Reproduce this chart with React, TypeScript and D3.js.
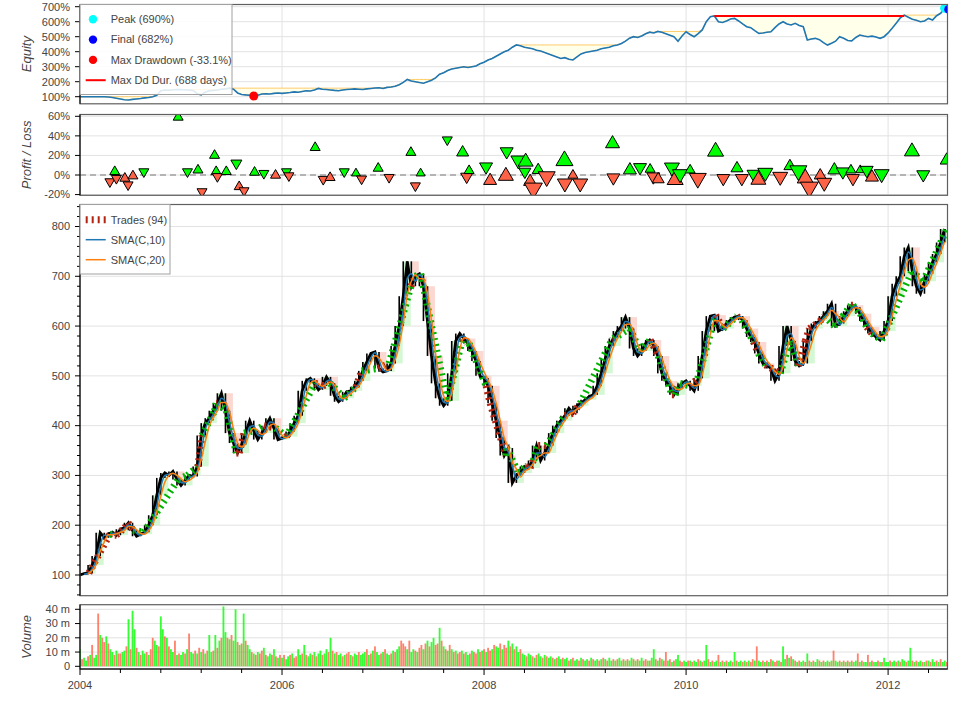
import React from 'react';
import * as d3 from 'd3';

// one price / equity sample every STEP bars (daily bars of the original)
const STEP = 10;
const VSTEP = 5;
const LAST_BAR = 2147;

// close price, one value per 10 bars
const closes = [
  100, 103, 104, 120, 138, 185, 175, 182, 186, 180,
  192, 195, 205, 190, 178, 182, 186, 200, 220, 260,
  295, 305, 300, 308, 292, 280, 290, 300, 298, 318,
  380, 405, 415, 430, 445, 465, 430, 385, 365, 345,
  362, 385, 410, 390, 372, 385, 400, 415, 395, 372,
  375, 378, 388, 405, 420, 470, 490, 495, 485, 472,
  480, 498, 485, 460, 448, 455, 468, 470, 478, 490,
  510, 528, 545, 548, 515, 508, 510, 525, 560, 600,
  660, 730, 680, 700, 705, 680, 610, 540, 485, 455,
  440, 450, 505, 570, 585, 575, 565, 550, 530, 500,
  495, 480, 445, 410, 375, 340, 355, 285, 300, 305,
  318, 315, 330, 360, 330, 345, 360, 385, 400, 410,
  420, 435, 425, 440, 445, 452, 458, 462, 480, 505,
  535, 560, 575, 590, 600, 618, 595, 555, 540, 550,
  565, 572, 560, 540, 505, 490, 480, 462, 475, 485,
  490, 480, 470, 495, 540, 590, 620, 622, 590, 595,
  605, 612, 618, 620, 612, 595, 578, 568, 545, 525,
  522, 515, 490, 505, 560, 600, 570, 530, 520, 525,
  570, 595, 605, 610, 620, 630, 645, 600, 605, 620,
  630, 642, 638, 625, 610, 598, 585, 578, 572, 590,
  610, 660, 685, 700, 740, 758, 710, 680, 665, 690,
  705, 728, 745, 768, 795,
];

// equity in percent of starting cash, one value per 10 bars
const equityPct = [
  100, 100, 100, 100, 100, 100, 100, 98, 95, 90,
  85, 80, 78, 82, 85, 88, 92, 95, 100, 110,
  140, 145, 143, 146, 148, 147, 146, 145, 142, 120,
  112, 130, 140, 142, 145, 150, 152, 157, 150, 125,
  115, 112, 110, 105, 110, 118, 120, 118, 122, 125,
  122, 125, 128, 132, 130, 135, 140, 138, 145, 155,
  150, 148, 145, 142, 140, 145, 148, 150, 152, 150,
  148, 152, 155, 158, 160, 155, 162, 165, 170, 180,
  195, 215, 205, 200, 195, 190, 200, 210, 225, 250,
  260, 275, 285, 290, 295, 300, 295, 300, 305, 320,
  330, 345, 355, 370, 385, 400, 410, 430, 445, 440,
  430, 425, 420, 410, 405, 395, 385, 375, 365, 355,
  360, 350, 345, 365, 385, 395, 400, 405, 410, 420,
  425, 430, 440, 445, 455, 470, 490, 500, 495, 505,
  520, 530, 525, 535, 530, 520, 510, 500, 470, 505,
  533, 515, 500, 520, 545, 600, 633, 638, 600, 595,
  605, 618, 622, 605, 585, 567, 560, 540, 522, 525,
  530, 533, 560, 585, 600, 585, 578, 589, 575, 567,
  478, 485, 489, 480, 460, 444, 456, 470, 500, 490,
  475, 472, 495, 511, 505, 500, 504, 498, 489, 500,
  525, 556, 590, 625, 644, 630, 616, 610, 600, 605,
  622, 611, 640, 656, 690, 682,
];

// volume in millions, one value per 5 bars
const volumeM = [
  12, 5, 6, 4, 7, 8, 15, 6, 8, 37, 22, 20, 17, 21, 16, 12, 10, 8, 11, 9,
  9, 10, 11, 14, 33, 12, 39, 26, 13, 10, 8, 11, 9, 10, 8, 12, 20, 18, 15, 14,
  35, 26, 21, 20, 14, 12, 10, 18, 8, 9, 8, 10, 9, 12, 23, 10, 9, 11, 9, 13,
  10, 12, 9, 11, 22, 10, 11, 22, 13, 18, 20, 42, 24, 20, 19, 22, 18, 40, 17, 15,
  16, 37, 18, 15, 12, 10, 9, 8, 10, 9, 11, 13, 8, 7, 9, 8, 12, 7, 6, 8,
  6, 8, 5, 7, 8, 9, 6, 7, 12, 8, 9, 15, 8, 7, 9, 8, 10, 7, 9, 11,
  8, 9, 12, 10, 20, 11, 9, 10, 8, 9, 7, 8, 9, 10, 8, 7, 9, 8, 10, 8,
  9, 10, 12, 8, 9, 11, 14, 10, 8, 9, 10, 12, 9, 8, 9, 11, 10, 12, 14, 18,
  16, 14, 12, 18, 10, 12, 11, 10, 13, 15, 12, 16, 18, 14, 17, 20, 15, 16, 27, 18,
  14, 12, 11, 15, 12, 10, 11, 9, 10, 11, 9, 10, 8, 9, 11, 10, 9, 12, 10, 11,
  12, 10, 13, 11, 12, 15, 14, 13, 16, 12, 15, 13, 18, 14, 16, 12, 14, 10, 12, 9,
  8, 7, 9, 8, 7, 6, 8, 9, 7, 6, 8, 7, 6, 7, 6, 5, 6, 7, 5, 6,
  5, 6, 4, 5, 6, 4, 5, 4, 6, 5, 4, 5, 4, 6, 5, 4, 5, 4, 5, 6,
  5, 4, 6, 4, 5, 4, 5, 6, 4, 5, 4, 5, 4, 6, 5, 4, 5, 4, 6, 4,
  5, 4, 4, 6, 12, 5, 4, 6, 5, 4, 10, 4, 5, 3, 4, 5, 8, 4, 3, 4,
  3, 4, 4, 3, 4, 3, 5, 4, 3, 4, 15, 5, 3, 4, 3, 4, 8, 3, 4, 3,
  4, 3, 4, 3, 10, 4, 3, 4, 3, 4, 3, 4, 3, 5, 4, 14, 4, 3, 4, 3,
  4, 3, 5, 4, 3, 4, 4, 3, 14, 5, 8, 6, 7, 5, 4, 3, 4, 3, 4, 3,
  9, 4, 3, 4, 3, 5, 4, 3, 4, 3, 4, 3, 4, 11, 4, 3, 4, 3, 4, 3,
  4, 3, 4, 3, 4, 9, 3, 4, 3, 3, 8, 3, 4, 3, 3, 4, 3, 3, 6, 3,
  3, 4, 3, 4, 3, 4, 3, 5, 4, 3, 4, 13, 4, 3, 4, 3, 4, 3, 3, 4,
  4, 3, 5, 3, 4, 3, 5, 3, 4, 3,
];

// 1 = up day (green), 0 = down day (red), one per volume sample
const volumeUp =
  '10110101101001011010' + '01101011010110100110' + '11010110101101011010' +
  '10101101010110101101' + '01011010100101101010' + '10110100110101101011' +
  '01101010110100101101' + '11010101101011010110' + '00101101001010110010' +
  '10101010010110100101' + '01001011010010101101' + '10110101101011010110' +
  '11010110101101011010' + '10110101101011010110' + '01011010100101011001' +
  '10101101011010110101' + '01101011010100101101' + '01010010110101010110' +
  '10101101011010110101' + '01011010110101101011' + '10110101101101011010' +
  '1011010110';

// trades: exit bar, return %, long (1) / short (0), marker size
const FIRST_ENTRY_BAR = 22;
const tradeExitBars = [
  74, 86, 90, 111, 119, 131, 158, 243, 266, 292,
  302, 333, 337, 340, 362, 387, 394, 406, 432, 455,
  484, 511, 517, 582, 602, 619, 654, 683, 697, 738,
  765, 819, 830, 843, 909, 947, 957, 963, 1005, 1015,
  1054, 1056, 1085, 1101, 1103, 1114, 1122, 1134, 1155, 1199,
  1200, 1220, 1238, 1318, 1320, 1361, 1386, 1411, 1419, 1431,
  1465, 1473, 1485, 1510, 1529, 1573, 1592, 1626, 1638, 1667,
  1679, 1696, 1733, 1757, 1778, 1795, 1805, 1832, 1842, 1867,
  1888, 1908, 1913, 1931, 1947, 1960, 1984, 2059, 2087, 2145,
];
const tradeReturnPct = [
  -6.8, 3.4, -3.4, -3.4, -10, -1, 3.4, 59, 3.4, 5,
  -17, 20, 3.4, -1.5, 3.4, 12, -12, -16, 2.7, 1.7,
  -0.3, 3.4, -0.7, 28, -4.4, -2.7, 3.4, 1.7, -4, 6.8,
  -2.4, 23, -11, 1.7, 36, 23, -1.7, 4.4, 8.5, -5.8,
  -1, 24, 15, 3.4, 13.5, -6.8, -13.6, 5, -1.7, 14.6,
  -8.5, -0.3, -8.5, 32, -2.7, 5, 7.8, 5.8, -1.7, -4.4,
  7.8, -5, 1, 5, -3.4, 24, -3.4, 6.8, -3.4, 1,
  -5, 2.4, -1.7, 9, 4.4, -3.4, -12.6, -0.5, -7.8, 5,
  3.4, 5, -3.4, 5, 5, -2.4, 1, 24, 0.5, 15,
];
const tradeIsLong = [
  0, 1, 0, 1, 0, 1, 0, 1, 0, 1,
  0, 1, 1, 0, 1, 0, 1, 0, 1, 0,
  1, 0, 0, 1, 0, 1, 0, 1, 0, 1,
  0, 1, 0, 1, 0, 1, 0, 1, 0, 1,
  1, 0, 0, 0, 1, 1, 0, 1, 0, 1,
  0, 1, 0, 1, 0, 1, 0, 1, 0, 1,
  0, 1, 0, 1, 0, 1, 0, 1, 0, 0,
  1, 0, 0, 1, 0, 1, 0, 1, 0, 1,
  0, 1, 0, 1, 0, 1, 0, 1, 0, 1,
];
const tradeMarkerSize = [
  10, 10, 10, 10, 10, 10, 10, 10, 10, 10,
  10, 10, 10, 10, 10, 11, 10, 10, 10, 10,
  10, 10, 10, 10, 10, 10, 10, 9, 10, 10,
  10, 10, 10, 9, 10, 12, 12, 10, 13, 13,
  15, 13, 15, 12, 15, 13, 18, 12, 17, 17,
  15, 10, 15, 14, 13, 13, 13, 10, 13, 12,
  15, 16, 15, 10, 17, 16, 13, 12, 13, 13,
  15, 15, 15, 12, 17, 16, 18, 12, 15, 13,
  13, 10, 13, 9, 13, 13, 15, 15, 13, 13,
];

const xTickBars = [0, 500, 1000, 1500, 2000];
const xTickLabels = ['2004', '2006', '2008', '2010', '2012'];
const equityTicks = [100, 200, 300, 400, 500, 600, 700];
const plTicks = [-20, 0, 20, 40, 60];
const priceTicks = [100, 200, 300, 400, 500, 600, 700, 800];
const volumeTicks = [0, 10, 20, 30, 40];

const equityLegend = ['Peak (690%)', 'Final (682%)', 'Max Drawdown (-33.1%)', 'Max Dd Dur. (688 days)'];
const priceLegend = ['Trades (94)', 'SMA(C,10)', 'SMA(C,20)'];

const FONT = "'Liberation Sans', Arial, Helvetica, sans-serif";
const TEXT = '#444444';
const GRID = '#e2e2e2';
const FRAME = '#5f5f5f';
const BULL = '#00ff00';
const BEAR = '#ff6347';
const BULL_DARK = '#00b300';
const BEAR_DARK = '#b3230f';
const BULL_LIGHT = '#d3f8d3';
const BEAR_LIGHT = '#fbd9d2';

const L = 80;
const R = 947.5;
const P_EQ = { top: 4.5, bottom: 103.8 };
const P_PL = { top: 114.5, bottom: 195.3 };
const P_PR = { top: 204.5, bottom: 595.7 };
const P_VO = { top: 604.7, bottom: 669 };

function rolling(arr: number[], n: number) {
  return arr.map((_, i) => (i < n - 1 ? null : (d3.mean(arr.slice(i - n + 1, i + 1)) as number)));
}

function triPath(size: number, up: boolean) {
  const r = size / 2;
  const h = r * Math.sqrt(3);
  const a = h / 3;
  const s = up ? 1 : -1;
  return `M${-r},${s * a}L${r},${s * a}L0,${s * (a - h)}Z`;
}

function YAxis({ scale, ticks, fmt, top, bottom, minor }: any) {
  return (
    <g>
      <line x1={L} x2={L} y1={top} y2={bottom} stroke="#000" />
      {minor && minor.map((v: number) => (
        <line key={'m' + v} x1={L - 3} x2={L} y1={scale(v)} y2={scale(v)} stroke="#000" />
      ))}
      {ticks.map((v: number) => (
        <g key={v}>
          <line x1={L - 5} x2={L} y1={scale(v)} y2={scale(v)} stroke="#000" />
          <text x={70} y={scale(v)} dy="0.35em" textAnchor="end" fontSize={11} fill={TEXT}>{fmt(v)}</text>
        </g>
      ))}
    </g>
  );
}

function Clip({ p, id }: any) {
  return (
    <clipPath id={id}>
      <rect x={L} y={p.top} width={R - L} height={p.bottom - p.top} />
    </clipPath>
  );
}

function Grid({ x, ys, scale, p }: any) {
  return (
    <g>
      {ys.map((v: number) => (
        <line key={'h' + v} x1={L} x2={R} y1={scale(v)} y2={scale(v)} stroke={GRID} />
      ))}
      {xTickBars.slice(1).map((b) => (
        <line key={'v' + b} x1={x(b)} x2={x(b)} y1={p.top} y2={p.bottom} stroke={GRID} />
      ))}
    </g>
  );
}

function Border({ p }: any) {
  return <rect x={L} y={p.top} width={R - L} height={p.bottom - p.top} fill="none" stroke={FRAME} strokeWidth={1.2} />;
}

export default function App() {
  const x = d3.scaleLinear().domain([0, LAST_BAR]).range([L, R]);
  const bar = (i: number) => i * STEP;

  const eqY = d3.scaleLinear().domain([100, 700]).range([96.7, 6.7]);
  const plY = d3.scaleLinear().domain([0, 60]).range([175, 116.3]);
  const pY = d3.scaleLinear().domain([100, 800]).range([575, 226.5]);
  const vY = d3.scaleLinear().domain([0, 40]).range([666.3, 609.3]);

  // equity derived values
  let m = -Infinity;
  const runMax = equityPct.map((v) => (m = Math.max(m, v)));
  const ddPoly = [
    ...runMax.map((v, i) => [x(bar(i)), eqY(v)]),
    ...equityPct.map((v, i) => [x(bar(i)), eqY(v)]).reverse(),
  ];
  const ddRel = equityPct.map((v, i) => v / runMax[i] - 1);
  const maxDdIdx = d3.minIndex(ddRel);
  let best = { s: 0, e: 0 };
  let start = -1;
  equityPct.forEach((v, i) => {
    if (v < runMax[i]) {
      if (start < 0) start = i - 1;
    } else if (start >= 0) {
      if (i - start > best.e - best.s) best = { s: start, e: i };
      start = -1;
    }
  });
  if (start >= 0 && equityPct.length - 1 - start > best.e - best.s) best = { s: start, e: equityPct.length - 1 };
  const peakIdx = d3.maxIndex(equityPct);
  const finalIdx = equityPct.length - 1;

  const eqLine = d3.line<number>().x((_, i) => x(bar(i))).y((v) => eqY(v));

  // price derived values
  const sma10 = rolling(closes, 2);
  const sma20 = rolling(closes, 3);
  const smaLine = d3
    .line<number | null>()
    .defined((v) => v != null)
    .x((_, i) => x(bar(i)))
    .y((v) => pY(v as number))
    .curve(d3.curveMonotoneX);
  const closeLine = d3.line<number>().x((_, i) => x(bar(i))).y((v) => pY(v));
  const priceAt = (b: number) => closes[Math.min(closes.length - 1, Math.round(b / STEP))];

  // monthly (20-bar) superimposed bars
  const monthly = d3.range(Math.ceil(closes.length / 2)).map((g) => {
    const o = closes[Math.max(0, 2 * g - 1)];
    const c = closes[Math.min(closes.length - 1, 2 * g + 1)];
    return { b0: g * 20, o, c };
  });

  const trades = tradeExitBars.map((exit, k) => {
    const entry = k === 0 ? FIRST_ENTRY_BAR : tradeExitBars[k - 1];
    return { entry, exit, ret: tradeReturnPct[k], long: tradeIsLong[k] === 1, size: tradeMarkerSize[k] };
  });

  const vstep = x(VSTEP) - x(0);

  return (
    <svg width={954} height={701} style={{ position: 'absolute', left: 0, top: 0, fontFamily: FONT, background: '#fff' }}>
      <rect width={954} height={701} fill="#fff" />
      <Clip p={P_EQ} id="cEq" />
      <Clip p={P_PL} id="cPl" />
      <Clip p={P_PR} id="cPr" />
      <Clip p={P_VO} id="cVo" />

      {/* ---------- Equity ---------- */}
      <Grid x={x} ys={equityTicks} scale={eqY} p={P_EQ} />
      <g clipPath="url(#cEq)">
        <path d={'M' + ddPoly.map((p) => p.join(',')).join('L') + 'Z'} fill="#ffffea" stroke="#ffcb66" strokeWidth={1} />
        <path d={eqLine(equityPct) || ''} fill="none" stroke="#1f77b4" strokeWidth={1.6} />
        <line x1={x(bar(best.s))} x2={x(bar(best.e))} y1={eqY(runMax[best.s])} y2={eqY(runMax[best.s])} stroke="#ff0000" strokeWidth={2} />
        <circle cx={x(bar(maxDdIdx))} cy={eqY(equityPct[maxDdIdx])} r={4.5} fill="#ff0000" />
        <circle cx={x(bar(peakIdx))} cy={eqY(equityPct[peakIdx])} r={4.5} fill="#00ffff" />
        <circle cx={x(bar(finalIdx))} cy={eqY(equityPct[finalIdx])} r={4.5} fill="#0000ff" />
      </g>
      <Border p={P_EQ} />
      <YAxis scale={eqY} ticks={equityTicks} fmt={(v: number) => `${v}%`} top={P_EQ.top} bottom={P_EQ.bottom} />
      <g>
        <rect x={L} y={P_EQ.top} width={152} height={90} fill="#fff" fillOpacity={0.85} stroke="#a0a0a0" />
        {equityLegend.map((t, i) => {
          const cy = 19.3 + i * 20.3;
          return (
            <g key={t}>
              {i < 3 ? (
                <circle cx={93} cy={cy} r={4.2} fill={['#00ffff', '#0000ff', '#ff0000'][i]} />
              ) : (
                <line x1={85.7} x2={105.7} y1={cy} y2={cy} stroke="#ff0000" strokeWidth={2} />
              )}
              <text x={110.7} y={cy} dy="0.35em" fontSize={11} fill={TEXT}>{t}</text>
            </g>
          );
        })}
      </g>
      <text transform={`translate(31,${(P_EQ.top + P_EQ.bottom) / 2}) rotate(-90)`} textAnchor="middle" fontSize={13} fontStyle="italic" fill={TEXT}>Equity</text>

      {/* ---------- Profit / Loss ---------- */}
      <Grid x={x} ys={plTicks} scale={plY} p={P_PL} />
      <line x1={L} x2={R} y1={plY(0)} y2={plY(0)} stroke="#777" strokeDasharray="6 4" />
      <g clipPath="url(#cPl)">
        {trades.map((t, k) => (
          <path
            key={k}
            d={triPath(t.size, t.long)}
            transform={`translate(${x(t.exit)},${plY(t.ret)})`}
            fill={t.ret >= 0 ? BULL : BEAR}
            stroke="#000"
            strokeWidth={1}
          />
        ))}
      </g>
      <Border p={P_PL} />
      <YAxis scale={plY} ticks={plTicks} fmt={(v: number) => `${v}%`} top={P_PL.top} bottom={P_PL.bottom} />
      <text transform={`translate(31,${(P_PL.top + P_PL.bottom) / 2}) rotate(-90)`} textAnchor="middle" fontSize={13} fontStyle="italic" fill={TEXT}>Profit / Loss</text>

      {/* ---------- Price ---------- */}
      <Grid x={x} ys={priceTicks} scale={pY} p={P_PR} />
      <g clipPath="url(#cPr)">
        {monthly.map((mb) => (
          <rect
            key={mb.b0}
            x={x(mb.b0)}
            width={x(20) - x(0) - 0.6}
            y={pY(Math.max(mb.o, mb.c))}
            height={Math.max(1, Math.abs(pY(mb.o) - pY(mb.c)))}
            fill={mb.c >= mb.o ? BULL_LIGHT : BEAR_LIGHT}
          />
        ))}
        {closes.map((c, i) => {
          const nb = [closes[i - 1] ?? c, c, closes[i + 1] ?? c];
          return (
            <line key={i} x1={x(bar(i))} x2={x(bar(i))} y1={pY(d3.max(nb) as number)} y2={pY(d3.min(nb) as number)} stroke="#000" strokeWidth={1.6} />
          );
        })}
        <path d={closeLine(closes) || ''} fill="none" stroke="#000" strokeWidth={2.8} strokeLinejoin="miter" />
        {trades.map((t, k) => (
          <line
            key={k}
            x1={x(t.entry)}
            y1={pY(priceAt(t.entry))}
            x2={x(t.exit)}
            y2={pY(priceAt(t.exit))}
            stroke={t.ret >= 0 ? BULL_DARK : BEAR_DARK}
            strokeWidth={7}
            strokeDasharray="2 4"
          />
        ))}
        <path d={smaLine(sma10) || ''} fill="none" stroke="#1f77b4" strokeWidth={1.5} />
        <path d={smaLine(sma20) || ''} fill="none" stroke="#ff7f0e" strokeWidth={1.5} />
      </g>
      <Border p={P_PR} />
      <YAxis
        scale={pY}
        ticks={priceTicks}
        minor={d3.range(60, 841, 20).filter((v) => v % 100 !== 0 && pY(v) > P_PR.top && pY(v) < P_PR.bottom)}
        fmt={(v: number) => `${v}`}
        top={P_PR.top}
        bottom={P_PR.bottom}
      />
      <g>
        <rect x={L} y={P_PR.top} width={90} height={69.5} fill="#fff" fillOpacity={0.85} stroke="#a0a0a0" />
        {priceLegend.map((t, i) => {
          const cy = 219.7 + i * 20;
          return (
            <g key={t}>
              {i === 0 ? (
                <line x1={85.7} x2={105.7} y1={cy} y2={cy} stroke={BEAR_DARK} strokeWidth={7} strokeDasharray="2 4" />
              ) : (
                <line x1={85.7} x2={105.7} y1={cy} y2={cy} stroke={i === 1 ? '#1f77b4' : '#ff7f0e'} strokeWidth={1.5} />
              )}
              <text x={110.7} y={cy} dy="0.35em" fontSize={11} fill={TEXT}>{t}</text>
            </g>
          );
        })}
      </g>

      {/* ---------- Volume ---------- */}
      <Grid x={x} ys={volumeTicks} scale={vY} p={P_VO} />
      <g clipPath="url(#cVo)">
        {volumeM.map((v, i) => (
          <rect
            key={i}
            x={x(i * VSTEP) - vstep * 0.45}
            width={vstep * 0.9}
            y={vY(v)}
            height={vY(0) - vY(v)}
            fill={volumeUp[i] === '1' ? BULL : BEAR}
            fillOpacity={0.8}
          />
        ))}
      </g>
      <rect x={L} y={P_VO.top} width={R - L} height={P_VO.bottom - P_VO.top} fill="none" stroke={FRAME} strokeWidth={1.2} />
      <YAxis scale={vY} ticks={volumeTicks} fmt={(v: number) => (v === 0 ? '0' : `${v} m`)} top={P_VO.top} bottom={P_VO.bottom} />
      <text transform={`translate(31,${(P_VO.top + P_VO.bottom) / 2}) rotate(-90)`} textAnchor="middle" fontSize={13} fontStyle="italic" fill={TEXT}>Volume</text>

      {/* x axis */}
      <line x1={L} x2={R} y1={P_VO.bottom} y2={P_VO.bottom} stroke="#000" />
      {d3.range(0, LAST_BAR, 100).map((b) => (
        <line key={b} x1={x(b)} x2={x(b)} y1={P_VO.bottom} y2={P_VO.bottom + (b % 500 === 0 ? 6 : 4)} stroke="#000" />
      ))}
      {xTickBars.map((b, i) => (
        <text key={b} x={x(b)} y={685} dy="0.35em" textAnchor="middle" fontSize={11} fill={TEXT}>{xTickLabels[i]}</text>
      ))}
    </svg>
  );
}
